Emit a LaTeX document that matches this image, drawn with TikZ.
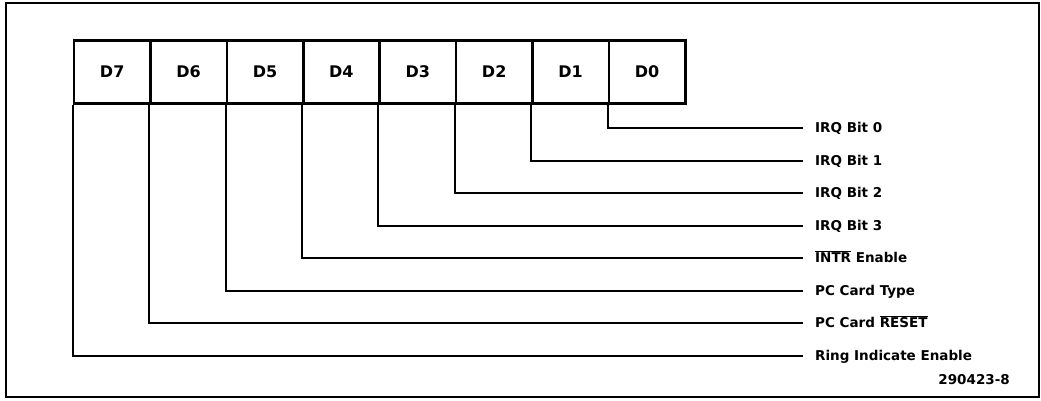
\documentclass[tikz,border=0pt]{standalone}
\usepackage{fontspec}
\setmainfont{DejaVu Sans}
\newcommand{\ovl}[1]{$\overline{\hbox{#1}}$}
\begin{document}
\begin{tikzpicture}[x=1pt,y=-1pt,
  cell/.style={draw,line width=2.6pt,minimum width=76.4pt,minimum height=63pt,inner sep=0pt,
    font=\fontsize{16}{16}\selectfont\bfseries},
  lab/.style={anchor=west,inner xsep=12pt,inner ysep=0pt,text height=9.8pt,text depth=0pt,
    font=\fontsize{13.5}{13.5}\selectfont\bfseries},
  conn/.style={line width=2pt}]
\useasboundingbox[fill=white] (0,0) rectangle (1041,401);
\draw[line width=1.2pt] (6,3) rectangle (1039,397);
% register cells
\foreach \n/\i in {7/0,6/1,5/2,4/3,3/4,2/5,1/6,0/7}{
  \node[cell] (d\n) at ({74+76.4*(\i+0.5)},72) {\raisebox{-1.5pt}{D\n}};
}
% labels
\node[lab] (l0) at (803,128) {IRQ Bit 0};
\node[lab] (l1) at (803,160.5) {IRQ Bit 1};
\node[lab] (l2) at (803,193) {IRQ Bit 2};
\node[lab] (l3) at (803,225.5) {IRQ Bit 3};
\node[lab] (l4) at (803,258) {\ovl{INTR} Enable};
\node[lab] (l5) at (803,290.5) {PC Card Type};
\node[lab] (l6) at (803,323) {PC Card \ovl{RESET}};
\node[lab] (l7) at (803,355.5) {Ring Indicate Enable};
\node[anchor=east,inner sep=0pt,text height=9.8pt,text depth=0pt,
  font=\fontsize{13.5}{13.5}\selectfont\bfseries] (fig) at (1010,380) {290423-8};
% connectors
\foreach \n in {0,...,7}{
  \draw[conn] (d\n.south west) |- (l\n.west);
}
\end{tikzpicture}
\end{document}
